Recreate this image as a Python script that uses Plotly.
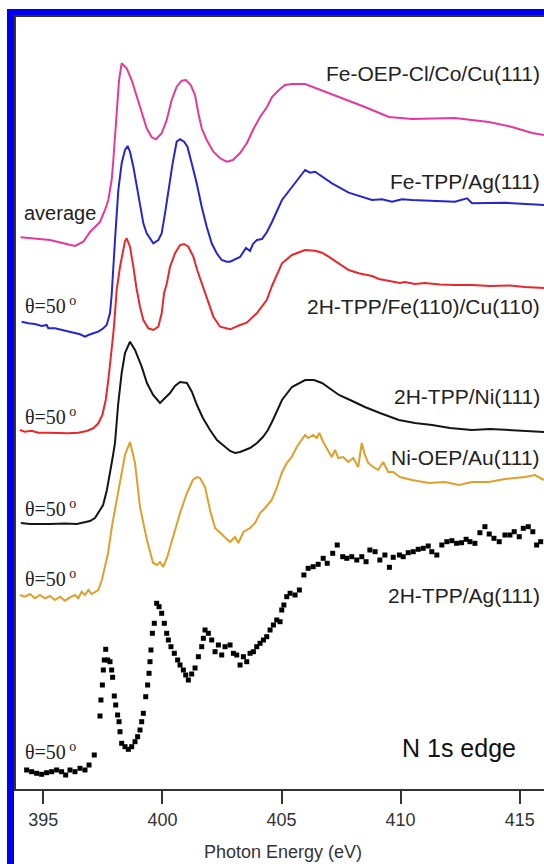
import plotly.graph_objects as go

# ---------------- data (photon energy in eV, intensity in arb. units incl. vertical offset) -------------
fe_oep_e = [394.05, 394.58, 395.28, 395.84, 396.33, 396.68, 396.96, 397.38, 397.59, 397.73, 397.87, 397.94,
            398.01, 398.08, 398.18, 398.29, 398.50, 398.71, 398.92, 399.13, 399.34, 399.55, 399.73, 399.97,
            400.18, 400.39, 400.60, 400.81, 400.99, 401.19, 401.37, 401.51, 401.65, 401.86, 402.14, 402.42,
            402.70, 402.96, 403.26, 403.55, 403.80, 404.10, 404.39, 404.60, 404.89, 405.15, 405.44, 405.99,
            406.41, 407.41, 408.50, 409.51, 410.48, 412.28, 413.71, 414.68, 415.52, 416.02]
fe_oep_i = [550.7, 549.7, 548, 544.7, 542, 546.3, 556, 566, 578, 588, 608, 628,
            654.7, 681.3, 708, 724.7, 719.7, 708, 691.3, 674.7, 659.7, 650.7, 648.7, 654.7,
            668, 688, 701.3, 707.3, 708, 703, 693, 674.7, 659.7, 648, 636.3, 629.7,
            626.3, 628, 635, 645, 658, 671, 681, 691, 698, 703, 704, 704,
            700, 691, 681, 671, 669, 670, 666, 661, 655, 653]

fe_tpp_e = [394.09, 394.37, 394.65, 394.93, 395.14, 395.21, 395.49, 395.77, 396.05, 396.33, 396.54, 396.75,
            396.89, 397.10, 397.31, 397.52, 397.66, 397.80, 397.87, 398.01, 398.15, 398.29, 398.43, 398.54,
            398.64, 398.78, 398.92, 399.06, 399.20, 399.34, 399.48, 399.62, 399.83, 399.97, 400.11, 400.25,
            400.43, 400.60, 400.74, 400.91, 401.05, 401.23, 401.44, 401.65, 401.86, 402.07, 402.28, 402.49,
            402.70, 402.84, 403.26, 403.51, 403.68, 403.80, 403.97, 404.18, 404.39, 404.60, 405.02, 405.44,
            405.99, 406.20, 406.41, 407.12, 407.82, 408.80, 409.22, 409.64, 410.06, 410.48, 411.32, 412.28,
            412.79, 413.00, 414.38, 416.02]
fe_tpp_i = [466.3, 464.7, 464, 462, 463, 459.7, 459.7, 458, 456.3, 454.7, 453.7, 451.3,
            453, 454.7, 456.3, 459.7, 463, 474.7, 493, 548, 598, 624.7, 638, 642,
            636.3, 621.3, 601.3, 581.3, 564.7, 554.7, 549.7, 544.7, 548, 554.7, 574.7, 598,
            624.7, 646.3, 648.7, 646.3, 641.3, 624.7, 604.7, 581.3, 561.3, 544.7, 534.7, 528,
            526.3, 526.3, 531, 540, 537, 544, 548, 549, 556, 566, 588, 601,
            618, 615.3, 616.3, 604.7, 595.3, 588, 588.7, 586.3, 588.7, 588, 587.3, 586.3,
            589.7, 584.7, 585.3, 583]

h2tpp_fe_e = [394.02, 394.23, 394.51, 394.79, 395.21, 395.63, 396.05, 396.47, 396.82, 397.10, 397.31, 397.48,
              397.62, 397.73, 397.84, 397.94, 398.01, 398.08, 398.22, 398.33, 398.43, 398.50, 398.64, 398.78,
              398.91, 399.06, 399.20, 399.41, 399.62, 399.83, 399.97, 400.07, 400.19, 400.32, 400.53, 400.74,
              400.91, 401.09, 401.30, 401.46, 401.65, 401.86, 402.14, 402.42, 402.84, 403.26, 403.54, 403.96,
              404.38, 404.60, 405.02, 405.44, 405.99, 406.41, 406.70, 406.98, 407.40, 407.82, 408.24, 408.80,
              409.09, 409.55, 409.97, 410.18, 410.60, 411.02, 411.65, 412.28, 412.99, 413.75, 414.59, 415.22,
              416.02]
h2tpp_fe_i = [358, 356.3, 357.3, 355.3, 355.3, 354.7, 354.7, 355.3, 357, 359.7, 364.7, 373,
              388, 408, 431.3, 454.7, 474.7, 498, 521, 536, 547, 549.7, 541.3, 521.3,
              500, 481.3, 468, 459.7, 458, 461.3, 474.7, 494.7, 505, 521.3, 534.7, 543,
              544, 541.3, 531.3, 518, 505, 490, 471.3, 461.3, 458.7, 463, 465.3, 474.7,
              488, 502, 524.7, 533, 538, 537.3, 535.3, 531.3, 524.7, 518, 514.7, 512,
              509, 507, 505, 506, 504, 505, 503.5, 503, 503, 502, 502.5, 501,
              500]

h2tpp_ni_e = [394.06, 394.44, 395.28, 395.91, 396.41, 396.75, 396.96, 397.17, 397.30, 397.51, 397.67, 397.80,
              397.93, 398.01, 398.14, 398.29, 398.43, 398.64, 398.85, 399.13, 399.35, 399.61, 399.90, 400.11,
              400.32, 400.53, 400.74, 401.03, 401.24, 401.45, 401.70, 402.00, 402.29, 402.54, 402.84, 403.05,
              403.26, 403.47, 403.68, 403.97, 404.22, 404.43, 404.64, 405.02, 405.44, 405.99, 406.36, 406.70,
              407.04, 407.41, 407.88, 408.50, 409.13, 409.93, 410.60, 411.32, 412.07, 412.99, 413.75, 414.68,
              415.43, 416.02]
h2tpp_ni_i = [265, 264, 264, 264.5, 264, 266, 267, 270, 275, 283, 298, 314,
              333, 345, 383, 415, 435, 446.3, 438, 421.3, 405, 393, 385, 390,
              395, 402, 406, 405, 396, 383, 370, 358, 348, 343, 337, 335,
              336, 338, 340, 345, 351, 358, 368, 388, 401, 408, 408, 405,
              399, 393, 388, 381, 375, 368, 365, 363, 360, 358, 359, 358,
              357, 356]

ni_oep_e = [394.02, 394.23, 394.44, 394.65, 394.86, 395.07, 395.28, 395.49, 395.70, 395.91, 396.12, 396.33,
            396.47, 396.61, 396.75, 396.89, 397.03, 397.17, 397.31, 397.46, 397.59, 397.72, 397.89, 398.01,
            398.22, 398.43, 398.64, 398.85, 399.06, 399.35, 399.61, 399.77, 399.90, 400.03, 400.19, 400.32,
            400.53, 400.74, 401.03, 401.28, 401.45, 401.58, 401.79, 402.00, 402.21, 402.42, 402.63, 402.84,
            403.05, 403.19, 403.40, 403.68, 403.89, 404.10, 404.31, 404.59, 404.80, 405.01, 405.22, 405.43,
            405.64, 405.85, 405.99, 406.12, 406.33, 406.48, 406.59, 406.75, 406.96, 407.11, 407.25, 407.38,
            407.59, 407.80, 408.01, 408.22, 408.37, 408.50, 408.64, 408.85, 409.06, 409.27, 409.48, 409.69,
            409.97, 410.48, 411.19, 411.86, 412.45, 413.00, 413.71, 414.38, 415.22, 415.64, 416.02]
ni_oep_i = [193, 191.3, 194, 189.7, 193, 189.7, 192, 188, 191.3, 187.3, 190.7, 193,
            189.7, 196.3, 193, 198, 194, 196.3, 198, 208, 220, 235, 263, 278,
            308, 333, 346, 325, 281, 248, 225, 223, 226, 221, 230, 241,
            258, 275, 295, 308, 311, 310, 301, 278, 260, 255, 251, 246,
            251, 245, 256, 260, 265, 275, 280, 288, 300, 315, 325, 331,
            341, 348, 353, 350, 353, 350, 355, 346, 338, 331, 338, 330,
            331, 326, 330, 321, 345, 333, 325, 321, 318, 326, 316, 316,
            311, 308, 305, 306, 303, 306, 306, 309, 311, 313, 308]

h2tpp_ag_e = [394.30, 394.51, 394.72, 394.93, 395.14, 395.35, 395.56, 395.77, 395.94, 396.12, 396.33, 396.54,
              396.75, 396.92, 397.14, 397.38, 397.42, 397.48, 397.52, 397.56, 397.62, 397.70, 397.80, 397.87,
              397.91, 397.98, 398.04, 398.12, 398.18, 398.22, 398.29, 398.43, 398.57, 398.71, 398.85, 398.96,
              399.06, 399.13, 399.20, 399.30, 399.38, 399.44, 399.48, 399.52, 399.58, 399.66, 399.76, 399.86,
              399.97, 400.08, 400.18, 400.25, 400.36, 400.50, 400.64, 400.74, 400.88, 400.98, 401.09, 401.23,
              401.37, 401.51, 401.65, 401.72, 401.79, 401.93, 402.07, 402.21, 402.35, 402.49, 402.63, 402.84,
              402.98, 403.12, 403.26, 403.40, 403.54, 403.68, 403.82, 403.96, 404.10, 404.24, 404.38, 404.52,
              404.66, 404.80, 404.94, 405.01, 405.10, 405.22, 405.36, 405.57, 405.75, 405.94, 406.12, 406.33,
              406.54, 406.75, 406.92, 407.15, 407.34, 407.57, 407.74, 407.95, 408.16, 408.37, 408.55, 408.71,
              408.93, 409.13, 409.34, 409.53, 409.69, 409.95, 410.11, 410.32, 410.53, 410.74, 410.95, 411.16,
              411.31, 411.52, 411.73, 411.94, 412.15, 412.35, 412.56, 412.75, 412.91, 413.12, 413.33, 413.54,
              413.72, 413.92, 414.14, 414.38, 414.59, 414.77, 414.98, 415.15, 415.36, 415.55, 415.71, 415.88]
h2tpp_ag_i = [18, 16.3, 14.7, 13.7, 15.3, 16.3, 18, 16.3, 13, 18, 16.3, 19.7,
              18, 23, 33, 72, 88, 103, 118, 128, 138.7, 128, 126.3, 118,
              110.7, 92, 83, 73, 66.3, 56.3, 44.7, 41.3, 38.7, 41.3, 46.3, 51.3,
              58, 66.3, 74.7, 91.3, 103, 114.7, 126.3, 138, 154.7, 164.7, 184.7, 181.3,
              174.7, 164.7, 154.7, 148, 141.3, 134.7, 128, 123, 118, 113, 108, 114,
              120, 131.3, 141.3, 149.7, 158, 154.7, 148, 136.3, 143, 133, 141.3, 143,
              134.7, 133, 123, 131.3, 126.3, 134.7, 136.3, 141.3, 144.7, 148, 151.3, 158,
              163, 168, 166.3, 178, 183, 191.3, 194.7, 193, 198, 213, 219.7, 221.3,
              223.7, 229.7, 224.7, 234.7, 243, 231.3, 229.7, 231.3, 228, 231.3, 226.3, 238,
              236.3, 228, 233, 220.7, 230.7, 233, 231.3, 235.3, 236.3, 238.7, 239.7, 242,
              236.3, 233, 243, 246.3, 247.3, 244.7, 245.3, 248.7, 246.3, 244.7, 255.3, 261.3,
              254, 249.7, 246.3, 253, 253, 256.3, 251.3, 259.7, 261.3, 256.3, 243, 246.3]

sample_labels = ["Fe-OEP-Cl/Co/Cu(111)", "Fe-TPP/Ag(111)", "2H-TPP/Fe(110)/Cu(110)",
                 "2H-TPP/Ni(111)", "Ni-OEP/Au(111)", "2H-TPP/Ag(111)"]
tick_vals = [395, 400, 405, 410, 415]

# ---------------- figure -------------
W, H = 544, 864
L, R, T, B = 16, 0, 17, 75
pw, ph = W - L - R, H - T - B


def px(x):
    return (x - L) / pw


def py(y):
    return (H - B - y) / ph


fig = go.Figure()
line_series = [
    (fe_oep_e, fe_oep_i, "#E4399C"),
    (fe_tpp_e, fe_tpp_i, "#2626CC"),
    (h2tpp_fe_e, h2tpp_fe_i, "#E8282C"),
    (h2tpp_ni_e, h2tpp_ni_i, "#151515"),
    (ni_oep_e, ni_oep_i, "#DEA02A"),
]
for (xs, ys, c), name in zip(line_series, sample_labels):
    fig.add_trace(go.Scatter(x=xs, y=ys, mode="lines", name=name,
                             line=dict(color=c, width=2)))
fig.add_trace(go.Scatter(x=h2tpp_ag_e, y=h2tpp_ag_i, mode="markers", name=sample_labels[5],
                         marker=dict(symbol="square", size=5, color="#000000")))

sans = "Liberation Sans"
serif = "Liberation Serif"
label_y = [715, 607, 482, 392, 331, 193]
for txt, yy in zip(sample_labels, label_y):
    fig.add_annotation(x=415.94, y=yy, text=txt, showarrow=False, xanchor="right", yanchor="middle",
                       font=dict(family=sans, size=21, color="#222222"))

fig.add_annotation(x=394.11, y=575, text="average", showarrow=False, xanchor="left", yanchor="middle",
                   font=dict(family=sans, size=20, color="#222222"))
for yy in [483, 372, 280, 210, 37]:
    fig.add_annotation(x=394.15, y=yy, text="θ=50<sup> o</sup>", showarrow=False, xanchor="left",
                       yanchor="middle", font=dict(family=serif, size=20, color="#222222"))
fig.add_annotation(x=412.47, y=40, text="N 1s edge", showarrow=False, xanchor="center", yanchor="middle",
                   font=dict(family=sans, size=25, color="#111111"))
fig.add_annotation(xref="paper", yref="paper", x=px(283), y=py(852), text="Photon Energy (eV)",
                   showarrow=False, xanchor="center", yanchor="middle",
                   font=dict(family=sans, size=18, color="#333333"))

# blue frame around the figure
blue = "#0000F0"
fig.add_shape(type="rect", xref="paper", yref="paper", x0=px(7), x1=px(14), y0=py(870), y1=py(9),
              fillcolor=blue, line=dict(width=0), layer="above")
fig.add_shape(type="rect", xref="paper", yref="paper", x0=px(7), x1=px(550), y0=py(15), y1=py(9),
              fillcolor=blue, line=dict(width=0), layer="above")

fig.update_layout(
    width=W, height=H, margin=dict(l=L, r=R, t=T, b=B),
    paper_bgcolor="white", plot_bgcolor="white", showlegend=False,
    xaxis=dict(range=[393.854, 416.02], tickvals=tick_vals, ticks="outside", ticklen=13, tickwidth=2,
               tickcolor="#333333", showline=True, linecolor="#333333", linewidth=2, mirror=True,
               showgrid=False, zeroline=False, ticklabelstandoff=0,
               tickfont=dict(family=sans, size=18, color="#333333")),
    yaxis=dict(range=[-1, 771], showticklabels=False, ticks="", showline=True, linecolor="#333333",
               linewidth=2, showgrid=False, zeroline=False),
)

fig.write_html("out.html", config={"displayModeBar": False},
               post_script="document.body.style.margin='0';document.body.style.overflow='hidden';")
